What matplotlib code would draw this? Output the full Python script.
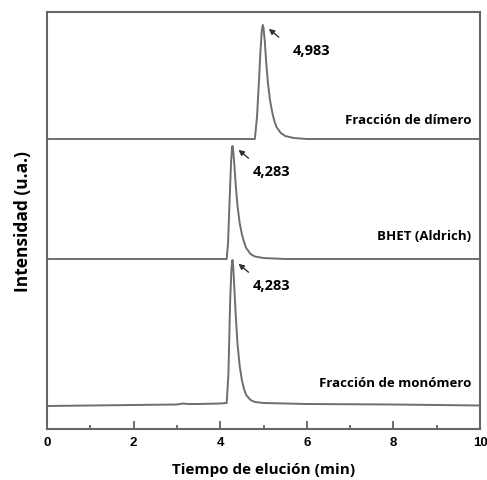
import matplotlib.pyplot as plt
import numpy as np

# Chromatograms (time in min, intensity in a.u. above baseline)
dimer_t = [0.0, 2.0, 4.0, 4.80, 4.85, 4.90, 4.93, 4.96, 4.983, 5.00, 5.03, 5.06, 5.10,
           5.15, 5.20, 5.25, 5.30, 5.40, 5.50, 5.70, 6.00, 8.0, 10.0]
dimer_i = [0, 0, 0, 0, 22, 62, 88, 108, 114, 111, 98, 78, 57,
           39, 27, 18, 12, 6, 3, 1, 0, 0, 0]

bhet_t = [0.0, 2.0, 4.0, 4.15, 4.18, 4.22, 4.25, 4.27, 4.283, 4.30, 4.33, 4.36, 4.40,
          4.45, 4.50, 4.55, 4.60, 4.70, 4.80, 5.00, 5.50, 8.0, 10.0]
bhet_i = [0, 0, 0, 0, 15, 62, 96, 110, 113, 109, 92, 73, 53,
          36, 25, 17, 11, 5, 2.5, 1, 0, 0, 0]

mono_t = [0.0, 1.0, 2.0, 3.0, 3.15, 3.25, 3.5, 4.0, 4.15, 4.19, 4.23, 4.26, 4.283, 4.30,
          4.33, 4.36, 4.40, 4.45, 4.50, 4.55, 4.60, 4.70, 4.80, 5.00, 6.0, 8.0, 10.0]
mono_i = [0, 0.5, 1, 1.5, 2.5, 2, 2, 2.5, 3, 32, 105, 138, 146, 140,
          115, 90, 62, 40, 26, 17, 11, 6, 4, 3, 2, 1.5, 0.5]

names = ['Fracción de dímero', 'BHET (Aldrich)', 'Fracción de monómero']
peak_labels = ['4,983', '4,283', '4,283']
peak_times = [4.983, 4.283, 4.283]
offsets = [290, 170, 23]

fig = plt.figure(figsize=(4.87, 4.81), dpi=100)
ax = fig.add_axes([47 / 487, 51 / 481, 433 / 487, 417 / 481])

line_col = '#6e6e6e'
traces = [(dimer_t, dimer_i), (bhet_t, bhet_i), (mono_t, mono_i)]
for (t, i), off in zip(traces, offsets):
    ax.plot(t, np.array(i) + off, color=line_col, lw=1.4, solid_joinstyle='round')

# labels of each trace
label_y = [310, 193, 46]
for name, ly in zip(names, label_y):
    ax.text(9.8, ly, name, ha='right', va='center', fontsize=9.5,
            fontweight='bold', family='Open Sans')

# peak annotations
peak_tops = [off + max(i) for (t, i), off in zip(traces, offsets)]
for lab, pt, top in zip(peak_labels, peak_times, peak_tops):
    ax.annotate('', xy=(pt + 0.09, top - 2), xytext=(pt + 0.42, top - 14),
                arrowprops=dict(arrowstyle='-|>', color='#333333', lw=1.0,
                                mutation_scale=8))
    ax.text(pt + 0.7 if lab == '4,983' else pt + 0.47, top - 18, lab, ha='left',
            va='top', fontsize=10.5, fontweight='bold', family='Open Sans')

ax.set_xlim(0, 10)
ax.set_ylim(0, 417)
ax.set_yticks([])
ax.set_xticks([0, 2, 4, 6, 8, 10])
ax.set_xticks([1, 3, 5, 7, 9], minor=True)
ax.tick_params(axis='x', which='major', direction='in', length=6, width=1.2,
               color='#555555', pad=5)
ax.tick_params(axis='x', which='minor', direction='in', length=3, width=1.2,
               color='#555555')
for lbl in ax.get_xticklabels():
    lbl.set_fontweight('bold')
    lbl.set_family('Liberation Sans')
    lbl.set_fontsize(9.5)
for sp in ax.spines.values():
    sp.set_color('#666666')
    sp.set_linewidth(1.5)

ax.set_xlabel('Tiempo de elución (min)', fontsize=11, fontweight='bold',
              family='Open Sans', labelpad=10)
ax.set_ylabel('Intensidad (u.a.)', fontsize=12.5, fontweight='bold',
              family='Open Sans', labelpad=11)

plt.savefig('out.png', dpi=100)
